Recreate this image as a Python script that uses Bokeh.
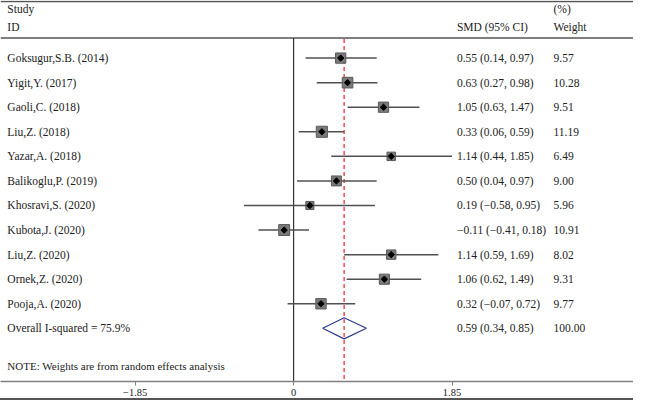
import math
from bokeh.plotting import figure
from bokeh.layouts import column
from bokeh.models import Range1d, FixedTicker, ColumnDataSource, Div
from bokeh.core.properties import value
from bokeh.embed import file_html
from bokeh.resources import INLINE

studies = ["Goksugur,S.B. (2014)", "Yigit,Y. (2017)", "Gaoli,C. (2018)", "Liu,Z. (2018)",
           "Yazar,A. (2018)", "Balikoglu,P. (2019)", "Khosravi,S. (2020)", "Kubota,J. (2020)",
           "Liu,Z. (2020)", "Ornek,Z. (2020)", "Pooja,A. (2020)"]
smd = [0.55, 0.63, 1.05, 0.33, 1.14, 0.50, 0.19, -0.11, 1.14, 1.06, 0.32]
ci_lo = [0.14, 0.27, 0.63, 0.06, 0.44, 0.04, -0.58, -0.41, 0.59, 0.62, -0.07]
ci_hi = [0.97, 0.98, 1.47, 0.59, 1.85, 0.97, 0.95, 0.18, 1.69, 1.49, 0.72]
weights = [9.57, 10.28, 9.51, 11.19, 6.49, 9.00, 5.96, 10.91, 8.02, 9.31, 9.77]
overall_label = "Overall I-squared = 75.9%"
overall_smd = 0.59
overall_lo = 0.34
overall_hi = 0.85
overall_weight = 100.00
tick_values = [-1.85, 0, 1.85]
tick_labels = ["\u22121.85", "0", "1.85"]

FONT = "Liberation Serif"
TXT = "#222222"

# reference-pixel helpers (layout only)
ZERO_PX, PX_PER_UNIT = 300.5, 87.8
ROW0_PX, ROW_PX = 60.0, 25.6
def px2x(px):
    return (px - ZERO_PX) / PX_PER_UNIT
def px2y(py):
    return (py - ROW0_PX) / ROW_PX

X0, X1 = px2x(0), px2x(649)
Y_TOP, Y_BOT = px2y(0), px2y(397)

p = figure(width=633, height=398, x_range=Range1d(X0, X1), y_range=Range1d(Y_BOT, Y_TOP),
           output_backend="svg", toolbar_location=None, min_border=0,
           y_axis_location=None)
p.grid.visible = False
p.outline_line_color = None
p.background_fill_color = "white"
p.border_fill_color = "white"

ax = p.xaxis[0]
ax.ticker = FixedTicker(ticks=tick_values)
ax.major_label_overrides = {v: l for v, l in zip(tick_values, tick_labels)}
ax.minor_tick_line_color = None
ax.axis_line_color = "#808080"
ax.axis_line_width = 1.5
ax.major_tick_line_color = "#808080"
ax.major_tick_out = 4
ax.major_tick_in = 0
ax.major_label_standoff = 3
ax.major_label_text_font = FONT
ax.major_label_text_font_size = "10.5px"
ax.major_label_text_color = TXT

n = len(studies)
rows = list(range(n))
ov_row = n

# horizontal rules
p.segment(x0=[X0, X0], x1=[X1, X1], y0=[px2y(1), px2y(39)], y1=[px2y(1), px2y(39)],
          line_color="#555555", line_width=1.5)
# zero line
p.segment(x0=[0], x1=[0], y0=[px2y(39)], y1=[Y_BOT], line_color="#333333", line_width=1.2)
# overall line
p.segment(x0=[overall_smd], x1=[overall_smd], y0=[px2y(40)], y1=[Y_BOT],
          line_color="#e8202a", line_width=1.2, line_dash="4 3")

src = ColumnDataSource(dict(study=studies, smd=smd, lo=ci_lo, hi=ci_hi, w=weights, y=rows,
                            size=[10.5 * (w / 10.0) ** 0.5 for w in weights]))
p.segment(x0="lo", x1="hi", y0="y", y1="y", source=src, line_color="#505050", line_width=1.5)
p.scatter(x="smd", y="y", size="size", marker="square", source=src,
          fill_color="#7a7a7a", line_color="#5a5a5a", line_width=1)
p.scatter(x="smd", y="y", size=4.5, marker="square", angle=math.pi / 4, source=src,
          fill_color="black", line_color="black")

# overall diamond
h = 0.43
p.patch(x=[overall_lo, overall_smd, overall_hi, overall_smd],
        y=[ov_row, ov_row - h, ov_row, ov_row + h],
        fill_color=None, line_color="#2e3a8c", line_width=1.2)

def fmt(v):
    return f"{v:.2f}".replace("-", "\u2212")

labels = studies + [overall_label]
ci_text = [f"{fmt(m)} ({fmt(a)}, {fmt(b)})" for m, a, b in zip(smd, ci_lo, ci_hi)]
ci_text.append(f"{fmt(overall_smd)} ({fmt(overall_lo)}, {fmt(overall_hi)})")
w_text = [f"{w:.2f}" for w in weights] + [f"{overall_weight:.2f}"]
all_rows = rows + [ov_row]

common = dict(text_font=value(FONT), text_font_size="11.5px", text_color=TXT,
              text_baseline="middle", text_align="left")
p.text(x=[px2x(7)] * len(labels), y=all_rows, text=labels, **common)
p.text(x=[px2x(468)] * len(ci_text), y=all_rows, text=ci_text, **common)
p.text(x=[px2x(567)] * len(w_text), y=all_rows, text=w_text, **common)

# header
p.text(x=[px2x(7), px2x(7), px2x(468), px2x(567), px2x(567)],
       y=[px2y(9), px2y(28), px2y(28), px2y(9), px2y(28)],
       text=["Study", "ID", "SMD (95% CI)", "(%)", "Weight"], **common)
p.text(x=[px2x(7)], y=[px2y(381)], text=["NOTE: Weights are from random effects analysis"],
       **dict(common, text_font_size="11px"))

# bottom border rule of the panel
rule = Div(text="", width=633, height=2, margin=0,
           styles={"background-color": "#555555", "width": "633px", "height": "2px"})

layout = column(p, rule, spacing=0)
open("out.html", "w").write(file_html(layout, INLINE))
